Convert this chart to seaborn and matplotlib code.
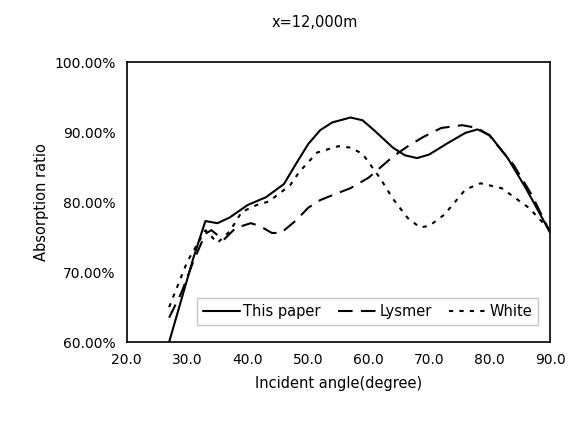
import numpy as np
import pandas as pd
import matplotlib.pyplot as plt
import seaborn as sns
from matplotlib.ticker import FuncFormatter

# valores
ang_paper = [27, 29, 31, 33, 35, 37, 40, 43, 46, 48, 50, 52, 54, 57, 59, 61, 64, 66, 68, 70, 73, 76, 78, 80, 83, 86, 90]
abs_paper = [60.0, 66.0, 72.0, 77.3, 77.0, 77.8, 79.6, 80.7, 82.6, 85.5, 88.3, 90.3, 91.4, 92.1, 91.7, 90.2, 87.8, 86.7, 86.3, 86.8, 88.4, 89.9, 90.4, 89.6, 86.3, 82.0, 75.7]

ang_lysmer = [27, 29, 31, 33, 34, 36, 38, 40.5, 42, 44, 45.5, 48, 50, 52, 54, 57, 60, 62, 64, 66.5, 69, 72, 75.5, 78, 80, 84, 87, 90]
abs_lysmer = [63.5, 67.0, 71.5, 75.5, 76.0, 74.6, 76.3, 77.0, 76.6, 75.6, 75.6, 77.4, 79.2, 80.3, 81.0, 82.0, 83.5, 85.0, 86.5, 88.0, 89.3, 90.6, 91.0, 90.6, 89.5, 85.3, 81.0, 75.7]

ang_white = [27, 30, 33, 35, 37, 39, 41.5, 43.5, 47, 48.5, 51.5, 55, 57, 59, 62, 64, 66.5, 68.5, 70, 72.5, 76, 78.5, 82, 86.5, 90]
abs_white = [65.0, 71.5, 76.0, 74.2, 75.8, 78.6, 79.6, 80.1, 82.4, 84.3, 87.1, 88.0, 87.8, 86.9, 83.3, 80.5, 77.7, 76.4, 76.6, 78.2, 81.8, 82.7, 82.0, 79.2, 76.0]

df = pd.concat([
    pd.DataFrame({'angle': ang_paper, 'ratio': abs_paper, 'metodo': 'This paper'}),
    pd.DataFrame({'angle': ang_lysmer, 'ratio': abs_lysmer, 'metodo': 'Lysmer'}),
    pd.DataFrame({'angle': ang_white, 'ratio': abs_white, 'metodo': 'White'}),
])

sns.set_style('white')
plt.rcParams['font.family'] = ['DejaVu Sans']
plt.rcParams['text.color'] = 'black'
plt.rcParams['xtick.color'] = 'black'
plt.rcParams['ytick.color'] = 'black'
plt.rcParams['axes.labelcolor'] = 'black'

fig = plt.figure(figsize=(5.87, 4.32), dpi=100)
ax = fig.add_axes([0.216, 0.208, 0.721, 0.648])

estilos = {'This paper': None, 'Lysmer': (7, 4), 'White': (2, 3)}
for nome in ['This paper', 'Lysmer', 'White']:
    sub = df[df['metodo'] == nome]
    sns.lineplot(data=sub, x='angle', y='ratio', ax=ax, color='black',
                 linewidth=1.5, label=nome, sort=False)
    if estilos[nome] is not None:
        ax.lines[-1].set_dashes(estilos[nome])

ax.set_xlim(20, 90)
ax.set_ylim(60, 100)
ax.set_xticks(np.arange(20, 91, 10))
ax.set_yticks(np.arange(60, 101, 10))
ax.xaxis.set_major_formatter(FuncFormatter(lambda v, p: f'{v:.1f}'))
ax.yaxis.set_major_formatter(FuncFormatter(lambda v, p: f'{v:.2f}%'))
ax.tick_params(length=0, labelsize=10, pad=8)
for s in ax.spines.values():
    s.set_color('black')
    s.set_linewidth(1.2)

ax.set_xlabel('Incident angle(degree)', fontsize=10.5, labelpad=6)
ax.set_ylabel('Absorption ratio', fontsize=10.5, labelpad=4)
fig.text(0.537, 0.947, 'x=12,000m', ha='center', va='center', fontsize=10.5)

leg = ax.legend(loc='lower right', ncol=3, fontsize=10.5, frameon=True,
                fancybox=False, edgecolor='#bbbbbb', handlelength=2.6,
                columnspacing=1.2, handletextpad=0.2,
                bbox_to_anchor=(0.99, 0.035))

fig.savefig('out.png', dpi=100)
